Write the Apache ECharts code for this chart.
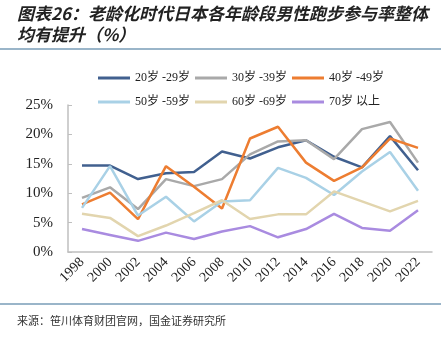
<!DOCTYPE html>
<html><head><meta charset="utf-8">
<script src="https://cdn.jsdelivr.net/npm/echarts@6/dist/echarts.min.js"></script>
<style>html,body{margin:0;padding:0;background:#fff}#c{width:441px;height:339px}</style>
</head><body><div id="c"></div>
<script>
var years = ['1998','2000','2002','2004','2006','2008','2010','2012','2014','2016','2018','2020','2022'];
var names = ['20岁 -29岁','30岁 -39岁','40岁 -49岁','50岁 -59岁','60岁 -69岁','70岁 以上'];
var s20 = [14.7,14.7,12.4,13.4,13.6,17.1,15.9,17.8,19.0,16.2,14.4,19.7,13.9];
var s30 = [9.2,11.0,7.3,12.4,11.2,12.4,16.6,18.8,19.0,15.8,20.9,22.1,15.2];
var s40 = [8.1,10.1,5.6,14.6,11.1,7.4,19.3,21.3,15.2,12.1,14.4,19.3,17.7];
var s50 = [7.5,14.6,6.2,9.4,5.2,8.6,8.8,14.3,12.6,9.7,13.7,17.0,10.4];
var s60 = [6.5,5.8,2.7,4.5,6.6,8.8,5.6,6.4,6.4,10.3,8.6,6.9,8.7];
var s70 = [3.9,2.9,1.9,3.3,2.2,3.5,4.4,2.5,3.9,6.5,4.1,3.6,7.1];
var yTicks = [0,5,10,15,20,25];
var colors = ['#41608f','#a9a9a9','#ed7d31','#a9d1e6','#e2d5ae','#a98be0'];
var allData = [s20,s30,s40,s50,s60,s70];

var serif = '"Liberation Serif","Noto Sans CJK SC",serif';
var chart = echarts.init(document.getElementById('c'), null, {renderer:'canvas'});
var legendCommon = {
  left: 93, itemWidth: 32, itemHeight: 3, itemGap: 5, icon: 'rect',
  textStyle: {fontFamily: serif, fontSize: 12, color: '#222'}
};
chart.setOption({
  animation: false,
  color: colors,
  graphic: [
    {type:'text', left: 17, top: 3, style:{text:'图表26：老龄化时代日本各年龄段男性跑步参与率整体\n均有提升（%）', font:'italic bold 17px "Noto Sans CJK SC"', lineHeight: 21, fill:'#222'}},
    {type:'line', shape:{x1:0,y1:49,x2:441,y2:49}, style:{stroke:'#9ab5c9', lineWidth:2}},
    {type:'line', shape:{x1:0,y1:304,x2:441,y2:304}, style:{stroke:'#9ab5c9', lineWidth:2}},
    {type:'text', left: 17, top: 315, style:{text:'来源：笹川体育财团官网，国金证券研究所', font:'11px "Noto Sans CJK SC"', fill:'#333'}}
  ],
  legend: [
    Object.assign({top: 67, data: names.slice(0,3)}, legendCommon),
    Object.assign({top: 91, data: names.slice(3)}, legendCommon)
  ],
  grid: {left: 68, right: 9, top: 105, bottom: 87},
  xAxis: {
    type: 'category', data: years, boundaryGap: true,
    axisLine: {lineStyle: {color: '#bfbfbf', width: 1.5}},
    axisTick: {inside: true, length: 4, lineStyle: {color: '#bfbfbf'}},
    axisLabel: {rotate: 45, fontFamily: serif, fontSize: 14, color: '#222', margin: 8, interval: 0}
  },
  yAxis: {
    type: 'value', min: yTicks[0], max: yTicks[yTicks.length-1], interval: 5,
    axisLine: {show: true, lineStyle: {color: '#bfbfbf', width: 1.5}},
    axisTick: {show: true, inside: true, length: 4, lineStyle: {color: '#bfbfbf'}},
    splitLine: {show: false},
    axisLabel: {formatter: '{value}%', fontFamily: serif, fontSize: 15, color: '#222', margin: 15}
  },
  series: names.map(function(n,i){
    return {name: n, type: 'line', data: allData[i], symbol: 'none',
      lineStyle: {width: 2.5, color: colors[i]}, itemStyle: {color: colors[i]}};
  })
});
</script></body></html>
